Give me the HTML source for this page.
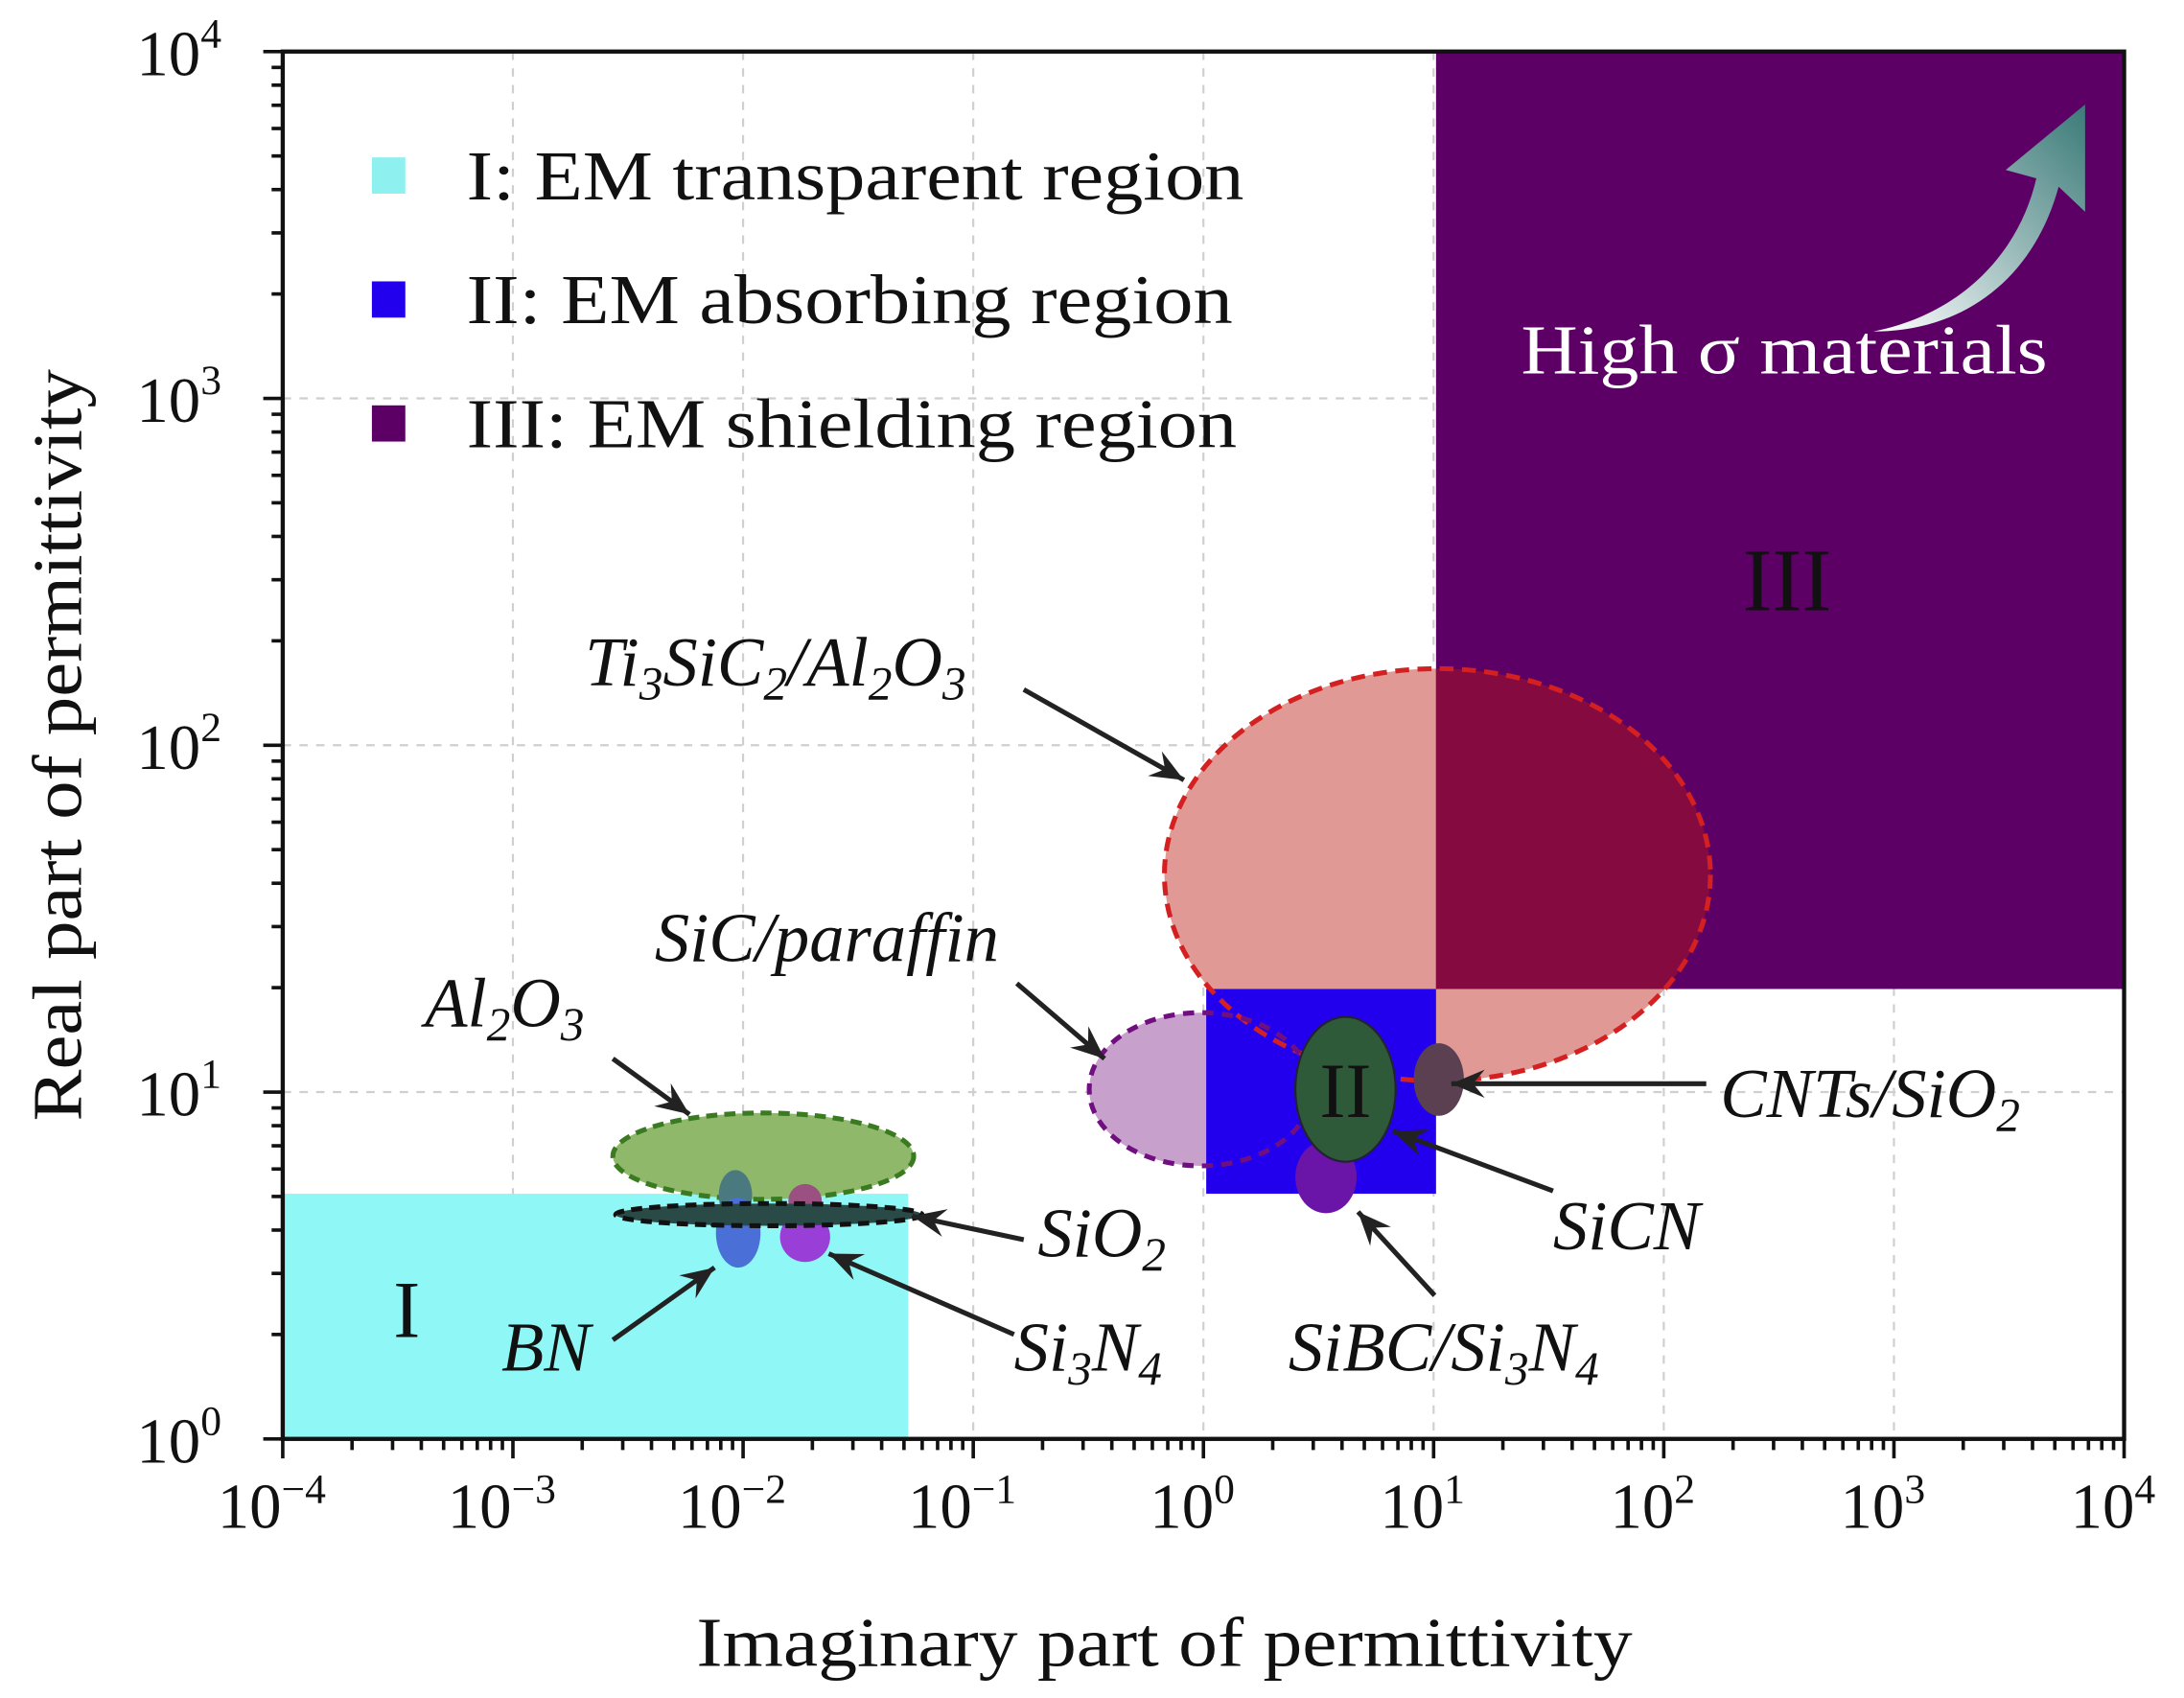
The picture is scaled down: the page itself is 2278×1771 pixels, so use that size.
<!DOCTYPE html>
<html><head><meta charset="utf-8"><style>html,body{margin:0;padding:0;background:#fff}svg{display:block}</style></head>
<body>
<svg id="s" xmlns="http://www.w3.org/2000/svg" width="2278" height="1771" viewBox="0 0 1568 1219" font-family="Liberation Serif, serif">
<defs>
<clipPath id="cp"><rect x="1031" y="37" width="494" height="673"/></clipPath>
<linearGradient id="ag" x1="0" y1="1" x2="1" y2="0"><stop offset="0" stop-color="#ffffff"/><stop offset="1" stop-color="#3a7a78"/></linearGradient>
</defs>
<rect width="1568" height="1219" fill="#fff"/>
<g id="grid" stroke="#cfcfcf" stroke-width="1.5" stroke-dasharray="6,6"></g>
<rect x="203" y="857" width="449" height="176" fill="#8ff7f5"/>
<ellipse cx="1032" cy="628" rx="196" ry="148" fill="#e09994"/>
<ellipse cx="862" cy="782" rx="80" ry="55" fill="#c8a0cc"/>
<rect x="866" y="710" width="165" height="147" fill="#2200ee"/>
<rect x="1031" y="37" width="494" height="673" fill="#5c0066"/>
<ellipse cx="1032" cy="628" rx="196" ry="148" fill="#850a40" clip-path="url(#cp)"/>
<ellipse cx="1032" cy="628" rx="196" ry="148" fill="none" stroke="#d42020" stroke-width="3.5" stroke-dasharray="10,6"/>
<ellipse cx="862" cy="782" rx="80" ry="55" fill="none" stroke="#701080" stroke-width="3.5" stroke-dasharray="8,6"/>
<ellipse cx="548" cy="830" rx="108" ry="31" fill="#8fb86a" stroke="#3a7a20" stroke-width="3.5" stroke-dasharray="8,5"/>
<ellipse cx="528" cy="858" rx="12" ry="18" fill="#4a7a80"/>
<ellipse cx="578" cy="862" rx="12" ry="12" fill="#9a5080"/>
<ellipse cx="530" cy="885" rx="16" ry="25" fill="#4a70d8"/>
<ellipse cx="578" cy="888" rx="18" ry="18" fill="#9a3ed8"/>
<ellipse cx="552" cy="872" rx="110" ry="8" fill="#2a4a48" stroke="#111" stroke-width="3.5" stroke-dasharray="8,5"/>
<ellipse cx="952" cy="845" rx="22" ry="26" fill="#6a14a8"/>
<ellipse cx="966" cy="782" rx="36" ry="52" fill="#2f5a3a" stroke="#223" stroke-width="1.5"/>
<ellipse cx="1033" cy="775" rx="18" ry="26" fill="#5a4050"/>
<path d="M1345,238 C1410,225 1450,180 1462,128 L1440,122 L1497,75 L1497,152 L1478,134 C1460,200 1410,238 1345,238 Z" fill="url(#ag)"/>
<rect x="203" y="37" width="1322" height="996" fill="none" stroke="#111" stroke-width="3"/>
<g id="ticks" stroke="#111" stroke-width="2.5"></g>
<g font-size="46" fill="#111" id="labels"></g>
<g font-size="50" fill="#111">
<rect x="267" y="113" width="24" height="26" fill="#8ff0f0"/>
<rect x="267" y="202" width="24" height="26" fill="#2200ee"/>
<rect x="267" y="291" width="24" height="26" fill="#5c0066"/>
<text x="335" y="143" textLength="558" lengthAdjust="spacingAndGlyphs">I: EM transparent region</text>
<text x="335" y="232" textLength="550" lengthAdjust="spacingAndGlyphs">II: EM absorbing region</text>
<text x="335" y="321" textLength="553" lengthAdjust="spacingAndGlyphs">III: EM shielding region</text>
<text x="1092" y="268" fill="#fff" textLength="378" lengthAdjust="spacingAndGlyphs">High σ materials</text>
<text x="1283" y="438" font-size="64" text-anchor="middle">III</text>
<text x="966" y="802" font-size="56" text-anchor="middle">II</text>
<text x="292" y="960" font-size="58" text-anchor="middle">I</text>
<text x="500" y="1196" textLength="672" lengthAdjust="spacingAndGlyphs">Imaginary part of permittivity</text>
<text transform="translate(58,805) rotate(-90)" textLength="540" lengthAdjust="spacingAndGlyphs">Real part of permittivity</text>
</g>
<g font-size="50" font-style="italic" fill="#111">
<text x="420" y="492">Ti<tspan font-size="34" dy="10">3</tspan><tspan dy="-10">SiC</tspan><tspan font-size="34" dy="10">2</tspan><tspan dy="-10">/Al</tspan><tspan font-size="34" dy="10">2</tspan><tspan dy="-10">O</tspan><tspan font-size="34" dy="10">3</tspan></text>
<text x="470" y="690">SiC/paraffin</text>
<text x="305" y="737">Al<tspan font-size="34" dy="10">2</tspan><tspan dy="-10">O</tspan><tspan font-size="34" dy="10">3</tspan></text>
<text x="745" y="902">SiO<tspan font-size="34" dy="10">2</tspan></text>
<text x="360" y="984">BN</text>
<text x="728" y="984">Si<tspan font-size="34" dy="10">3</tspan><tspan dy="-10">N</tspan><tspan font-size="34" dy="10">4</tspan></text>
<text x="1235" y="802">CNTs/SiO<tspan font-size="34" dy="10">2</tspan></text>
<text x="1115" y="897">SiCN</text>
<text x="925" y="984">SiBC/Si<tspan font-size="34" dy="10">3</tspan><tspan dy="-10">N</tspan><tspan font-size="34" dy="10">4</tspan></text>
</g>
<g id="arrows" stroke="#222" stroke-width="3.5" fill="#222"></g>
</svg>
<script>
var NS="http://www.w3.org/2000/svg",s=document.getElementById('s');
function el(p,t,a){var e=document.createElementNS(NS,t);for(var k in a)e.setAttribute(k,a[k]);p.appendChild(e);return e;}
var g=document.getElementById('grid'),tk=document.getElementById('ticks'),lb=document.getElementById('labels');
var X0=203,X1=1525,Y0=1033,Y1=37,dx=(X1-X0)/8,dy=(Y0-Y1)/4;
for(var i=0;i<=8;i++){var x=X0+i*dx;
 if(i>0&&i<8)el(g,'line',{x1:x,y1:Y1,x2:x,y2:Y0});
 el(tk,'line',{x1:x,y1:Y0,x2:x,y2:Y0+14});
 if(i<8)for(var m=2;m<10;m++){var xm=x+Math.log10(m)*dx;el(tk,'line',{x1:xm,y1:Y0,x2:xm,y2:Y0+8});}
 var t=el(lb,'text',{x:x-8,y:1097,'text-anchor':'middle'});t.textContent='10';var sp=el(t,'tspan',{dy:-18,'font-size':30});sp.textContent=String(i-4).replace('-','\u2212');}
for(var j=0;j<=4;j++){var y=Y0-j*dy;
 if(j>0&&j<4)el(g,'line',{x1:X0,y1:y,x2:X1,y2:y});
 el(tk,'line',{x1:X0-14,y1:y,x2:X0,y2:y});
 if(j<4)for(var m=2;m<10;m++){var ym=y-Math.log10(m)*dy;el(tk,'line',{x1:X0-8,y1:ym,x2:X0,y2:ym});}
 var t=el(lb,'text',{x:98,y:y+17});t.textContent='10';var sp=el(t,'tspan',{dy:-20,'font-size':30});sp.textContent=String(j);}
var A=document.getElementById('arrows');
function arr(x1,y1,x2,y2){el(A,'line',{x1:x1,y1:y1,x2:x2,y2:y2});var a=Math.atan2(y2-y1,x2-x1),L=26,w=0.4;
 el(A,'path',{d:'M'+x2+','+y2+' L'+(x2-L*Math.cos(a-w))+','+(y2-L*Math.sin(a-w))+' L'+(x2-L*0.6*Math.cos(a))+','+(y2-L*0.6*Math.sin(a))+' L'+(x2-L*Math.cos(a+w))+','+(y2-L*Math.sin(a+w))+'Z',stroke:'none'});}
arr(735,495,850,560);arr(730,706,793,760);arr(440,760,495,800);arr(735,890,655,873);
arr(440,962,513,910);arr(728,958,595,900);arr(1225,778,1042,778);arr(1115,855,1000,812);arr(1030,930,975,870);
</script>
</body></html>
